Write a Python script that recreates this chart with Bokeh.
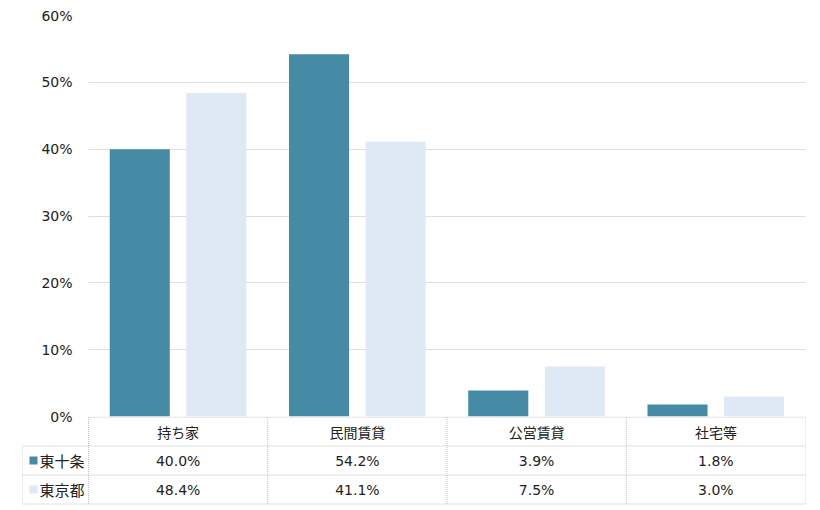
from bokeh.plotting import figure
from bokeh.models import ColumnDataSource, Range1d, FactorRange, PrintfTickFormatter, SingleIntervalTicker
from bokeh.transform import dodge
from bokeh.embed import file_html
from bokeh.resources import INLINE
from bokeh.core.properties import value

categories = ["持ち家", "民間賃貸", "公営賃貸", "社宅等"]
series_names = ["東十条", "東京都"]
higashijujo = [40.0, 54.2, 3.9, 1.8]
tokyo = [48.4, 41.1, 7.5, 3.0]

TEAL = "#458BA5"
LIGHT = "#DEE9F5"
FONT = "Noto Sans CJK JP"
NUMFONT = "DejaVu Sans"
GRID = "#bfbfbf"

src = ColumnDataSource(dict(cat=categories, a=higashijujo, b=tokyo))

p = figure(x_range=FactorRange(*categories, range_padding=0), y_range=Range1d(0, 60),
           width=808, height=428, output_backend="svg", toolbar_location=None,
           min_border_left=88, min_border_right=3, min_border_top=15, min_border_bottom=12,
           x_axis_location=None)
p.outline_line_color = None
p.vbar(x=dodge("cat", -0.214, range=p.x_range), top="a", width=0.335, source=src,
       fill_color=TEAL, line_color=None)
p.vbar(x=dodge("cat", 0.213, range=p.x_range), top="b", width=0.335, source=src,
       fill_color=LIGHT, line_color=None)
p.xgrid.visible = False
p.ygrid.grid_line_color = GRID
p.ygrid.grid_line_dash = "1 1"
p.yaxis.ticker = SingleIntervalTicker(interval=10)
p.yaxis.formatter = PrintfTickFormatter(format="%d%%")
p.yaxis.axis_line_color = None
p.yaxis.major_tick_line_color = None
p.yaxis.minor_tick_line_color = None
p.yaxis.major_label_standoff = 10
p.yaxis.major_label_text_font = NUMFONT
p.yaxis.major_label_text_font_size = "14px"
p.yaxis.major_label_text_color = "#222222"

# table figure
n = len(categories)
legend_w = 66 / 179.25
t = figure(x_range=Range1d(-legend_w, n), y_range=Range1d(-0.154, 3.02),
           width=808, height=92, output_backend="svg", toolbar_location=None,
           min_border_left=22, min_border_right=3, min_border_top=0, min_border_bottom=0,
           x_axis_location=None, y_axis_location=None)
t.outline_line_color = None
t.background_fill_color = None
t.border_fill_color = None
t.grid.visible = False
t.styles = {"margin-top": "-12px"}

hx0 = [0, -legend_w, -legend_w, -legend_w]
hx1 = [n, n, n, n]
hy = [3, 2, 1, 0]
t.segment(x0=hx0, y0=hy, x1=hx1, y1=hy, line_color=GRID, line_width=1, line_dash="1 1")
vx = list(range(n + 1)) + [-legend_w]
vy0 = [0] * (n + 1) + [0]
vy1 = [3] * (n + 1) + [2]
t.segment(x0=vx, y0=vy0, x1=vx, y1=vy1, line_color=GRID, line_width=1, line_dash="1 1")

xs = [i + 0.5 for i in range(n)]
t.text(x=xs, y=[2.5] * n, text=categories, text_font=value(FONT), text_font_size="14px",
       text_align="center", text_baseline="middle", text_color="#222222")
t.text(x=xs, y=[1.5] * n, text=["%.1f%%" % v for v in higashijujo], text_font=value(NUMFONT),
       text_font_size="14px", text_align="center", text_baseline="middle", text_color="#222222")
t.text(x=xs, y=[0.5] * n, text=["%.1f%%" % v for v in tokyo], text_font=value(NUMFONT),
       text_font_size="14px", text_align="center", text_baseline="middle", text_color="#222222")

mx = -legend_w + 11 / 179.25
t.scatter(x=[mx, mx], y=[1.5, 0.5], marker="square", size=8, fill_color=[TEAL, LIGHT], line_color=None)
tx = -legend_w + 17 / 179.25
t.text(x=[tx, tx], y=[1.5, 0.5], text=series_names, text_font=value(FONT), text_font_size="15px",
       text_align="left", text_baseline="middle", text_color="#222222")

open("out.html", "w").write(file_html([p, t], INLINE))
